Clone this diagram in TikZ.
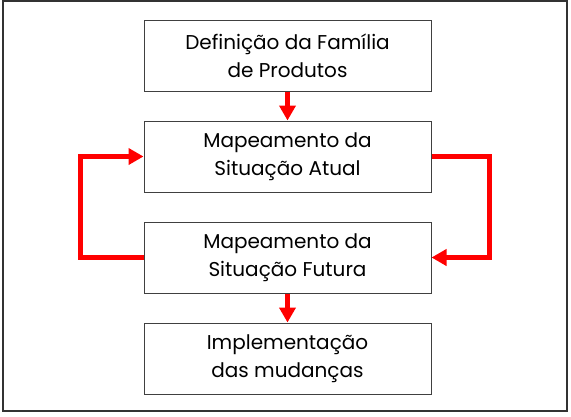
\documentclass[tikz,border=0pt]{standalone}
\usepackage{fontspec}
\setmainfont{Poppins}
\usepackage{tikz}
\usetikzlibrary{positioning, arrows.meta}

\begin{document}
\begin{tikzpicture}[x=1pt, y=-1pt,
    etapa/.style={draw=black!75, line width=1pt, minimum width=287pt, minimum height=71pt,
                  align=center, font=\fontsize{20}{28}\selectfont, inner sep=0pt},
    seta/.style={draw=red, line width=4.5pt, -{Triangle[length=15pt, width=16pt]}}]
    \useasboundingbox (0,0) rectangle (571,416);
    \draw[black!80, line width=2pt] (3,1) rectangle (567,411);

    \node[etapa] (familia) at (287.5,55.5) {Definição da Família\\de Produtos};
    \node[etapa, below=29pt of familia] (atual) {Mapeamento da\\Situação Atual};
    \node[etapa, below=29pt of atual] (futura) {Mapeamento da\\Situação Futura};
    \node[etapa, below=29pt of futura] (mudancas) {Implementação\\das mudanças};

    \draw[seta] (familia) -- (atual);
    \draw[seta] (futura) -- (mudancas);
    \draw[seta] (futura.west) -- ++(-63,0) |- (atual.west);
    \draw[seta] (atual.east) -- ++(58,0) |- (futura.east);
\end{tikzpicture}
\end{document}
